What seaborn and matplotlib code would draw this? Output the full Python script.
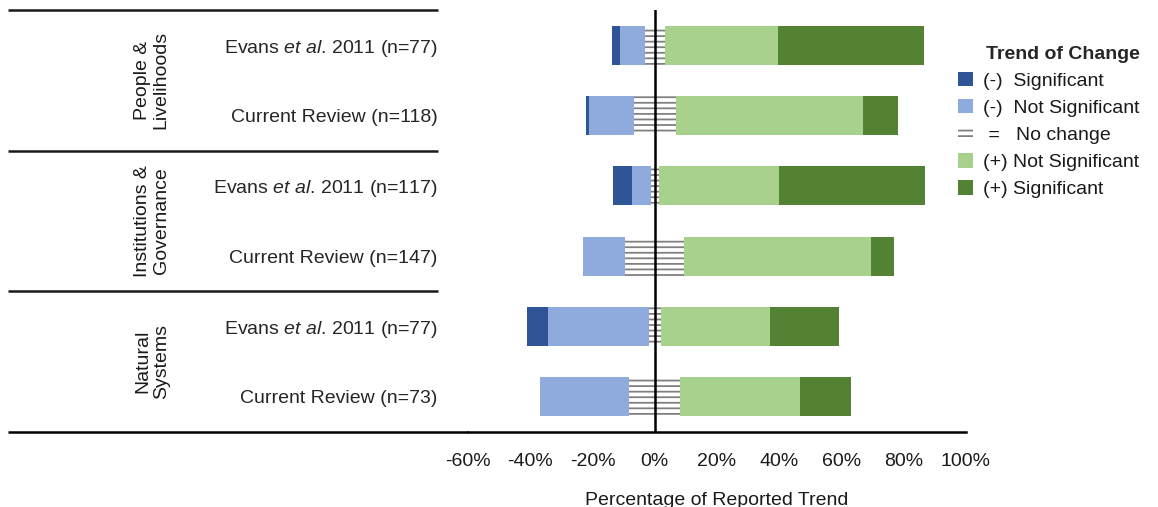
import matplotlib
matplotlib.use("Agg")
import matplotlib.pyplot as plt
import matplotlib.transforms as mtransforms
from matplotlib.patches import Patch
import numpy as np
import pandas as pd
import seaborn as sns

# ---------------- data (percent of reported trends) ----------------
groups = ["People &\nLivelihoods", "Institutions &\nGovernance", "Natural\nSystems"]
row_labels = [
    r"Evans $\mathit{et\ al}$. 2011 (n=77)",
    "Current Review (n=118)",
    r"Evans $\mathit{et\ al}$. 2011 (n=117)",
    "Current Review (n=147)",
    r"Evans $\mathit{et\ al}$. 2011 (n=77)",
    "Current Review (n=73)",
]
neg_sig = [2.6, 0.8, 6.0, 0.0, 6.5, 0.0]
neg_ns = [7.8, 14.4, 6.0, 13.6, 32.5, 28.8]
no_change = [6.5, 13.6, 2.6, 19.0, 3.9, 16.4]
pos_ns = [36.4, 60.2, 38.5, 59.9, 35.1, 38.4]
pos_sig = [46.8, 11.0, 47.0, 7.5, 22.1, 16.4]

legend_title = "Trend of Change"
legend_labels = ["(-)  Significant", "(-)  Not Significant", " =   No change",
                 "(+) Not Significant", "(+) Significant"]
xticks = [-60, -40, -20, 0, 20, 40, 60, 80, 100]
xlabel = "Percentage of Reported Trend"

# ---------------- style ----------------
sns.set_style("white")
plt.rcParams["font.family"] = ["Liberation Sans", "DejaVu Sans"]
plt.rcParams["mathtext.fontset"] = "custom"
plt.rcParams["mathtext.rm"] = "Liberation Sans"
plt.rcParams["mathtext.it"] = "Liberation Sans:italic"
plt.rcParams["hatch.color"] = "#808080"
plt.rcParams["hatch.linewidth"] = 1.3

c_neg_sig = "#2F5597"
c_neg_ns = "#8FAADC"
c_pos_ns = "#A9D18E"
c_pos_sig = "#548235"
c_hatch = "#808080"
FS = 14

df = pd.DataFrame({
    "row": [f"r{i}" for i in range(len(row_labels))],
    "neg_sig": neg_sig, "neg_ns": neg_ns, "no_change": no_change,
    "pos_ns": pos_ns, "pos_sig": pos_sig,
})
half = df["no_change"] / 2
df["right_outer"] = half + df["pos_ns"] + df["pos_sig"]
df["right_mid"] = half + df["pos_ns"]
df["right_in"] = half
df["left_outer"] = -(half + df["neg_ns"] + df["neg_sig"])
df["left_mid"] = -(half + df["neg_ns"])
df["left_in"] = -half

fig = plt.figure(figsize=(11.58, 5.07), dpi=100)
ax = fig.add_axes([468 / 1158, 1 - 432 / 507, 498 / 1158, 422 / 507])

order = list(df["row"])
bw = 0.55
common = dict(y="row", data=df, order=order, orient="y", ax=ax,
              errorbar=None, saturation=1, width=bw)
sns.barplot(x="right_outer", color=c_pos_sig, linewidth=0, **common)
sns.barplot(x="right_mid", color=c_pos_ns, linewidth=0, **common)
sns.barplot(x="left_outer", color=c_neg_sig, linewidth=0, **common)
sns.barplot(x="left_mid", color=c_neg_ns, linewidth=0, **common)
sns.barplot(x="right_in", color="white", edgecolor=c_hatch, hatch="---",
            linewidth=0, **common)
sns.barplot(x="left_in", color="white", edgecolor=c_hatch, hatch="---",
            linewidth=0, **common)

n = len(row_labels)
ax.set_ylim(n - 0.5, -0.5)
ax.axvline(0, color="black", lw=1.8, zorder=10)
ax.set_xlim(-60, 100)
ax.set_xticks(xticks)
ax.set_xticklabels([f"{t}%" for t in xticks], fontsize=FS)
ax.set_yticks(range(n))
ax.set_yticklabels(row_labels, fontsize=FS)
ax.tick_params(axis="y", length=0, pad=22)
ax.tick_params(axis="x", length=5, width=1.8, direction="out", pad=10,
               color="black", labelcolor="#1a1a1a")
ax.set_ylabel("")
ax.set_xlabel(xlabel, fontsize=FS, labelpad=16, color="#1a1a1a")
for s in ["left", "right", "top"]:
    ax.spines[s].set_visible(False)
ax.spines["bottom"].set_color("black")
ax.spines["bottom"].set_linewidth(1.8)

# separators and group labels in left label panel
tr = mtransforms.blended_transform_factory(ax.transAxes, ax.transData)
x_left = (8 - 468) / 498
x_sep_end = (438 - 468) / 498
for yb in [-0.5, 1.5, 3.5]:
    ax.plot([x_left, x_sep_end], [yb, yb], transform=tr, color="#1a1a1a",
            lw=1.8, clip_on=False, solid_capstyle="butt")
ax.plot([x_left, 0], [n - 0.5, n - 0.5], transform=tr, color="black", lw=1.8,
        clip_on=False, solid_capstyle="butt")

gx = (152 - 468) / 498
for gi, g in enumerate(groups):
    ax.text(gx, 2 * gi + 0.5, g, transform=tr, rotation=90, ha="center",
            va="center", multialignment="center", fontsize=FS,
            linespacing=1.1, color="#1a1a1a")

handles = [
    Patch(facecolor=c_neg_sig, edgecolor="none"),
    Patch(facecolor=c_neg_ns, edgecolor="none"),
    Patch(facecolor="white", edgecolor=c_hatch, hatch="---", linewidth=0),
    Patch(facecolor=c_pos_ns, edgecolor="none"),
    Patch(facecolor=c_pos_sig, edgecolor="none"),
]
leg = fig.legend(handles, legend_labels, title=legend_title,
                 loc="upper left", bbox_to_anchor=(958 / 1158, 1 - 46 / 507),
                 frameon=False, fontsize=FS, borderpad=0, borderaxespad=0,
                 handlelength=0.75, handleheight=0.75, handletextpad=0.55,
                 labelspacing=0.47, alignment="right",
                 title_fontproperties={"weight": "bold", "size": FS})
for t in leg.get_texts():
    t.set_color("#1a1a1a")

fig.savefig("out.png", dpi=100)
